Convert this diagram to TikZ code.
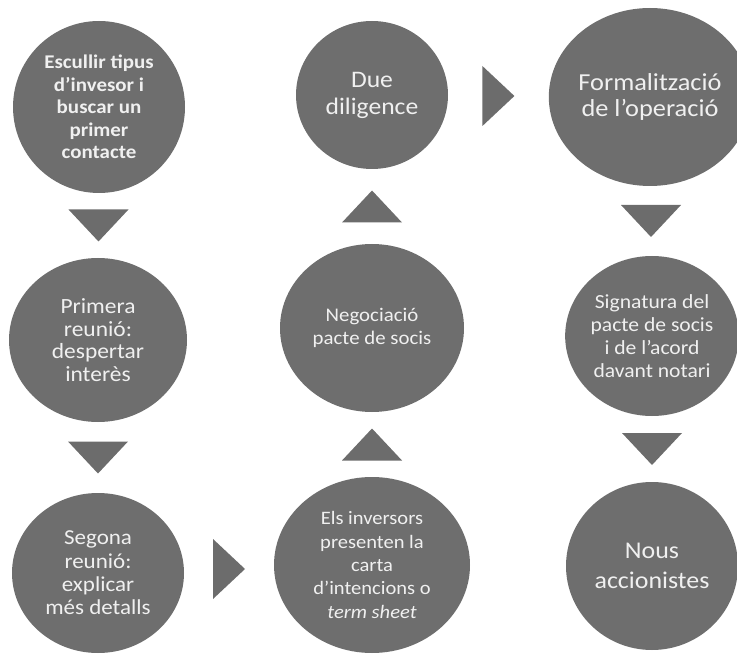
\documentclass[tikz,border=0pt]{standalone}
\usepackage{fontspec}
\setmainfont{Carlito}[FakeStretch=1.08]
\usepackage{tikz}
\usetikzlibrary{shapes.geometric, calc}
\definecolor{etapagris}{RGB}{110,110,110}
\definecolor{fletxagris}{RGB}{108,108,108}
\definecolor{textclar}{RGB}{240,240,240}

\tikzset{
  etapa/.style={ellipse, fill=etapagris, text=textclar, inner sep=0pt, align=center},
  fletxa/.pic={\fill[fletxagris] (-30pt,-16pt) -- (30pt,-16pt) -- (0pt,16pt) -- cycle;}
}

\begin{document}
\begin{tikzpicture}[x=1pt, y=1pt]
        \useasboundingbox (0,0) rectangle (737,-655);
        % primera columna
        \node[etapa, minimum width=172pt, minimum height=172pt,
          font=\bfseries\fontsize{19.4}{22.5}\selectfont] (escullir) at (99,-107)
          {Escullir tipus\\d’invesor i\\buscar un\\primer\\contacte};
        \node[etapa, minimum width=178pt, minimum height=164pt,
          font=\fontsize{21.7}{22.5}\selectfont] (primera) at (98,-340)
          {Primera\\reunió:\\despertar\\interès};
        \node[etapa, minimum width=172pt, minimum height=160pt,
          font=\fontsize{21.3}{23.3}\selectfont] (segona) at (98,-573)
          {Segona\\reunió:\\explicar\\més detalls};
        % segona columna
        \node[etapa, minimum width=196pt, minimum height=176pt,
          font=\fontsize{19}{23.3}\selectfont] (inversors) at (372,-565)
          {Els inversors\\presenten la\\carta\\d’intencions o\\\textit{term sheet}};
        \node[etapa, minimum width=184pt, minimum height=168pt,
          font=\fontsize{19.3}{23}\selectfont] (negociacio) at (372,-328)
          {Negociació\\pacte de socis};
        \node[etapa, minimum width=152pt, minimum height=148pt,
          font=\fontsize{23.7}{27}\selectfont] (due) at (372,-95)
          {Due\\diligence};
        % tercera columna
        \node[etapa, minimum width=178pt, minimum height=178pt,
          font=\fontsize{24.4}{26}\selectfont] (formalitzacio) at (650,-97)
          {Formalització\\de l’operació};
        \node[etapa, minimum width=162pt, minimum height=160pt,
          font=\fontsize{20}{22.8}\selectfont] (signatura) at (652,-336)
          {Signatura del\\pacte de socis\\i de l’acord\\davant notari};
        \node[etapa, minimum width=172pt, minimum height=168pt,
          font=\fontsize{24}{30}\selectfont] (nous) at (652,-566)
          {Nous\\accionistes};
        % fletxes
        \pic[rotate=180] at ($(escullir.south)!0.5!(primera.north)$) {fletxa};
        \pic[rotate=180] at ($(primera.south)!0.5!(segona.north)$) {fletxa};
        \pic[rotate=-90] at ($(segona.east)!0.5!(inversors.west)$) {fletxa};
        \pic at ($(inversors.north)!0.5!(negociacio.south)$) {fletxa};
        \pic at ($(negociacio.north)!0.5!(due.south)$) {fletxa};
        \pic[rotate=-90] at ($(due.east)!0.5!(formalitzacio.west)$) {fletxa};
        \pic[rotate=180] at ($(formalitzacio.south)!0.5!(signatura.north)$) {fletxa};
        \pic[rotate=180] at ($(signatura.south)!0.5!(nous.north)$) {fletxa};
      \end{tikzpicture}
\end{document}
